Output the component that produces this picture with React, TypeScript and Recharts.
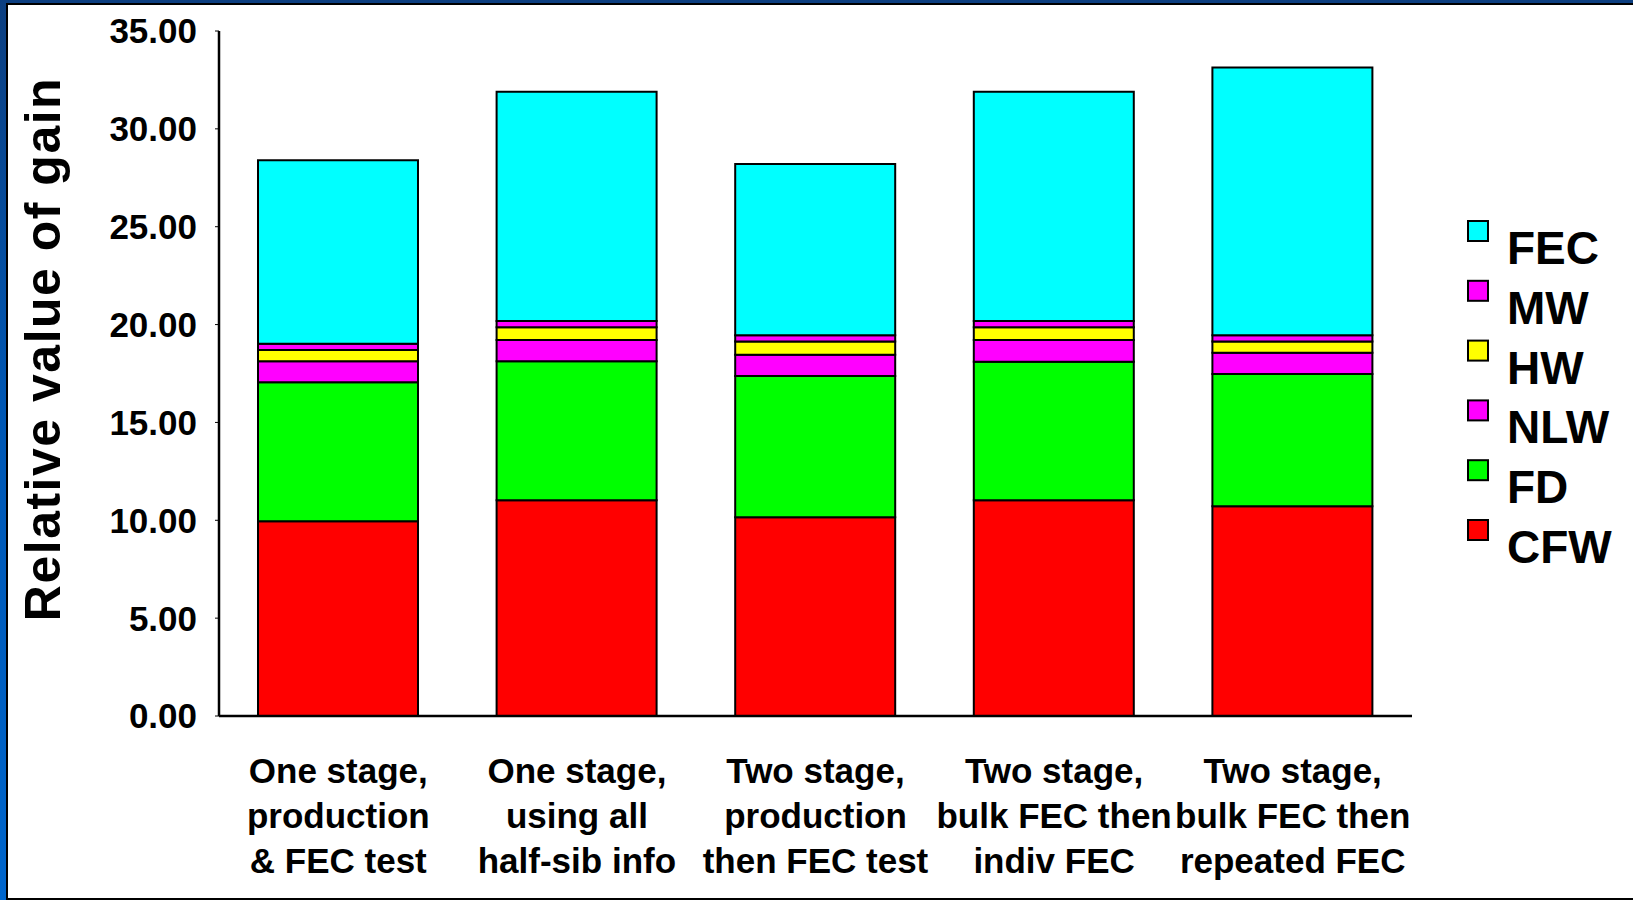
import React from "react";
import { BarChart, Bar, XAxis, YAxis, Legend, Label } from "recharts";

// category labels, one entry per line
const categories = [
  ["One stage,", "production", "& FEC test"],
  ["One stage,", "using all", "half-sib info"],
  ["Two stage,", "production", "then FEC test"],
  ["Two stage,", "bulk FEC then", "indiv FEC"],
  ["Two stage,", "bulk FEC then", "repeated FEC"],
];

// stacked components, bottom to top
const cfw = [9.95, 11.02, 10.15, 11.02, 10.72];
const fd = [7.1, 7.1, 7.22, 7.08, 6.76];
const nlw = [1.07, 1.09, 1.09, 1.11, 1.08];
const hw = [0.58, 0.65, 0.67, 0.65, 0.57];
const mw = [0.32, 0.32, 0.32, 0.32, 0.32];
const fec = [9.38, 11.72, 8.75, 11.72, 13.68];

const seriesKeys = ["CFW", "FD", "NLW", "HW", "MW", "FEC"];
const yTicks = [0, 5, 10, 15, 20, 25, 30, 35];

const COLORS: Record<string, string> = {
  CFW: "#ff0000",
  FD: "#00ff00",
  NLW: "#ff00ff",
  HW: "#ffff00",
  MW: "#ff00ff",
  FEC: "#00ffff",
};

const data = categories.map((lines, i) => ({
  name: lines.join(" "),
  CFW: cfw[i],
  FD: fd[i],
  NLW: nlw[i],
  HW: hw[i],
  MW: mw[i],
  FEC: fec[i],
}));

const FONT = "'Liberation Sans', Arial, Helvetica, sans-serif";

function CategoryTick(props: any) {
  const { x, y, payload } = props;
  const lines = categories[payload.index] ?? [String(payload.value)];
  return (
    <text
      x={x}
      y={y}
      textAnchor="middle"
      fontFamily={FONT}
      fontWeight="bold"
      fontSize={35}
      fill="#000"
    >
      {lines.map((line, i) => (
        <tspan key={i} x={x} dy={i === 0 ? 61 : 45}>
          {line}
        </tspan>
      ))}
    </text>
  );
}

function LegendBox() {
  const rows = [...seriesKeys].reverse();
  return (
    <svg width={180} height={370} style={{ display: "block" }}>
      {rows.map((key, i) => (
        <g key={key}>
          <rect
            x={3}
            y={3 + i * 59.8}
            width={20}
            height={20}
            fill={COLORS[key]}
            stroke="#000"
            strokeWidth={2}
          />
          <text
            x={42}
            y={3 + i * 59.8 + 43}
            fontFamily={FONT}
            fontWeight="bold"
            fontSize={46}
            fill="#000"
          >
            {key}
          </text>
        </g>
      ))}
    </svg>
  );
}

export default function App() {
  return (
    <div
      style={{
        position: "absolute",
        left: 0,
        top: 0,
        width: 1633,
        height: 900,
        overflow: "hidden",
        background: "linear-gradient(to bottom, #0d3f80 0%, #0057b3 45%, #0066cc 100%)",
      }}
    >
      <div
        style={{
          position: "absolute",
          left: 6,
          top: 3,
          width: 1640,
          height: 897,
          boxSizing: "border-box",
          background: "#fff",
          borderLeft: "2px solid #000",
          borderTop: "2px solid #000",
          borderBottom: "2px solid #000",
        }}
      />
      <div style={{ position: "absolute", left: 0, top: 0 }}>
        <BarChart
          width={1633}
          height={900}
          data={data}
          margin={{ top: 31, right: 221, bottom: 0, left: 0 }}
        >
          <XAxis
            dataKey="name"
            height={184}
            tickLine={false}
            tickMargin={0}
            axisLine={{ stroke: "#000", strokeWidth: 2.5 }}
            tick={<CategoryTick />}
            interval={0}
          />
          <YAxis
            width={219}
            domain={[0, 35]}
            ticks={yTicks}
            allowDataOverflow
            tickFormatter={(v: number) => v.toFixed(2)}
            tickSize={4}
            tickMargin={18}
            tickLine={{ stroke: "#000", strokeWidth: 1 }}
            axisLine={{ stroke: "#000", strokeWidth: 2.5 }}
            tick={{
              fill: "#000",
              fontSize: 35,
              fontWeight: "bold",
              fontFamily: FONT,
            }}
          >
            <Label
              content={() => (
                <text
                  x={60}
                  y={349}
                  transform="rotate(-90 60 349)"
                  textAnchor="middle"
                  fontFamily={FONT}
                  fontWeight="bold"
                  fontSize={50}
                  letterSpacing={1.5}
                  fill="#000"
                >
                  Relative value of gain
                </text>
              )}
            />
          </YAxis>
          <Legend
            layout="vertical"
            align="center"
            verticalAlign="middle"
            content={() => <LegendBox />}
            wrapperStyle={{ left: 1465, top: 218, width: 180, height: 370 }}
          />
          {seriesKeys.map((key) => (
            <Bar
              key={key}
              dataKey={key}
              stackId="gain"
              barSize={160}
              fill={COLORS[key]}
              stroke="#000"
              strokeWidth={2}
              isAnimationActive={false}
            />
          ))}
        </BarChart>
      </div>
    </div>
  );
}
